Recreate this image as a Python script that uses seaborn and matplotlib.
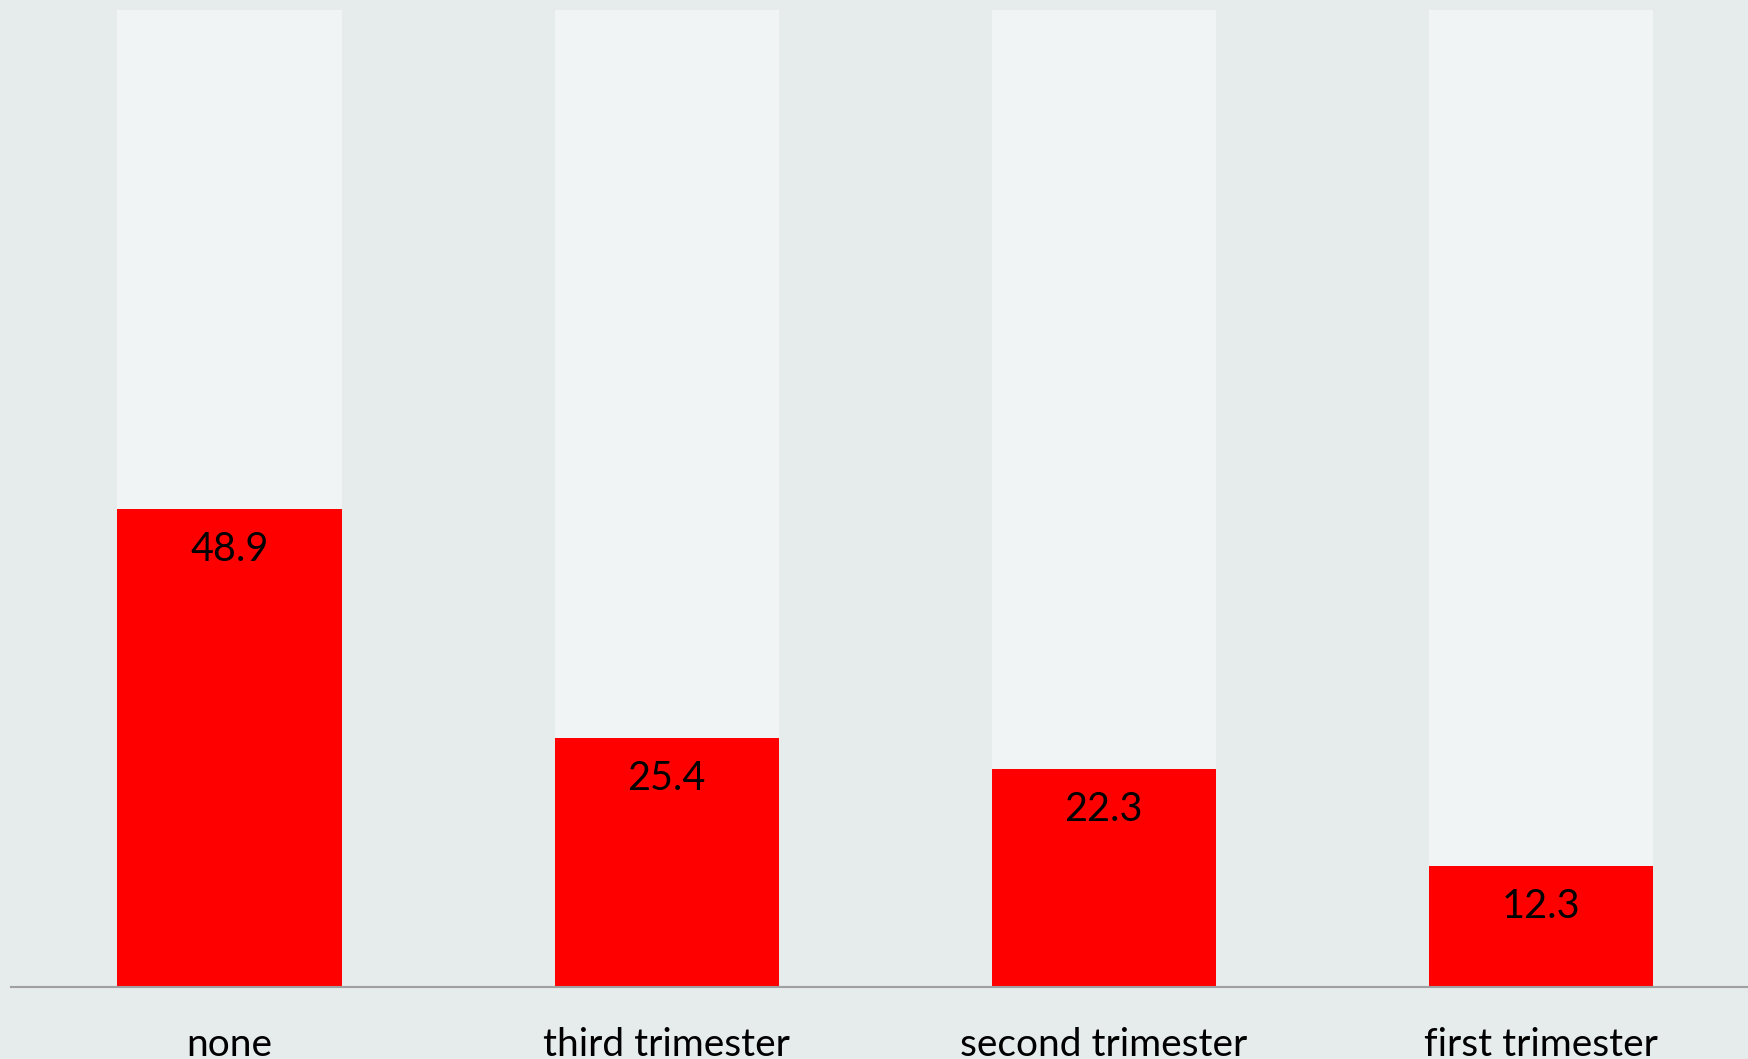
import matplotlib
matplotlib.use("Agg")
import matplotlib.pyplot as plt
import seaborn as sns
import pandas as pd

categories = ["none", "third trimester", "second trimester", "first trimester"]
values = [48.9, 25.4, 22.3, 12.3]
totals = [100, 100, 100, 100]

bg_color = "#E6ECEC"
track_color = "#F0F4F5"
bar_color = "#FF0000"

sns.set_theme(style="white")
plt.rcParams["font.family"] = ["Lato", "DejaVu Sans"]

df = pd.DataFrame({"category": categories, "value": values, "total": totals})

fig = plt.figure(figsize=(17.48, 10.59), dpi=100, facecolor=bg_color)
ax = fig.add_axes([11 / 1748, 72.5 / 1059, 1 - 11 / 1748, 976.5 / 1059])
ax.set_facecolor(bg_color)

sns.barplot(data=df, x="category", y="total", color=track_color, width=0.513,
            saturation=1, linewidth=0, ax=ax, zorder=1)
sns.barplot(data=df, x="category", y="value", color=bar_color, width=0.513,
            saturation=1, linewidth=0, ax=ax, zorder=2)

for i, v in enumerate(values):
    ax.annotate(f"{v}", xy=(i, v), xytext=(0, -29), textcoords="offset points",
                ha="center", va="center", fontsize=28.5, color="black", zorder=3)

ax.set_xlim(-0.5, 3.474)
ax.set_ylim(0, 100)
ax.set_xlabel("")
ax.set_ylabel("")
ax.set_yticks([])
ax.tick_params(axis="x", length=0, pad=29, labelsize=28, colors="black")

for side in ["top", "left", "right"]:
    ax.spines[side].set_visible(False)
ax.spines["bottom"].set_color("#A0A0A0")
ax.spines["bottom"].set_linewidth(1.5)

fig.savefig("out.png", dpi=100, facecolor=bg_color)
